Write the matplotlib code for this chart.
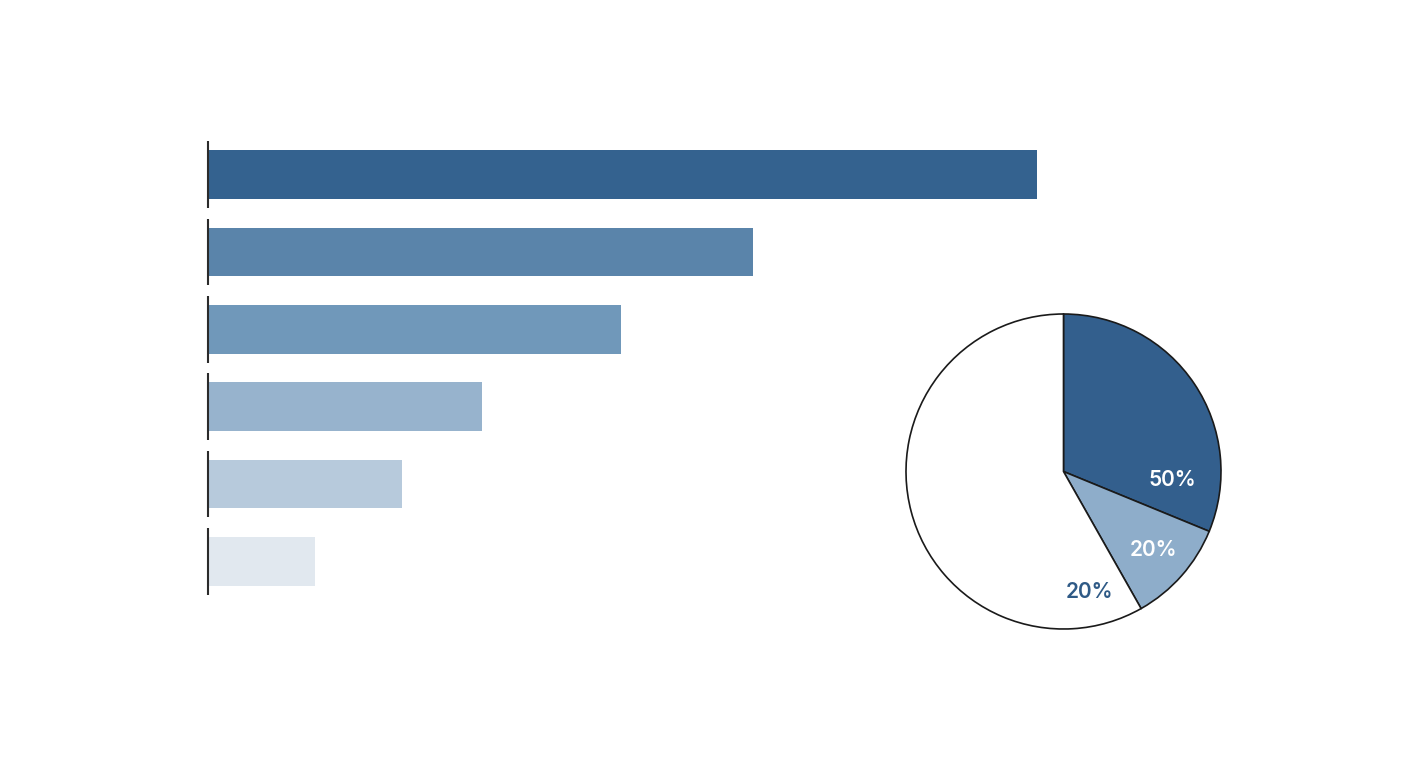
import numpy as np
import matplotlib
matplotlib.use("Agg")
from matplotlib import pyplot as plt

# bar lengths (relative, longest = 100), top to bottom
bar_values = [100, 65.6, 49.7, 32.9, 23.3, 12.8]
bar_colors = ["#34628f", "#5a84aa", "#7098ba", "#97b3cd", "#b7cadc", "#e1e8ef"]

# pie wedge shares (as drawn) and the labels printed on them
pie_values = [31.2, 10.6, 58.2]
pie_colors = ["#335f8d", "#8eadca", "#ffffff"]
pie_labels = ["50%", "20%", "20%"]
label_colors = ["white", "white", "#2f5a86"]
# label placement: (angle in degrees, radius as fraction of pie radius)
label_angles = [-4.5, -41, -78]
label_radii = [0.69, 0.76, 0.78]

plt.rcParams['font.family'] = ['Inter', 'DejaVu Sans']

fig = plt.figure(figsize=(14.08, 7.68), dpi=100)
fig.patch.set_facecolor("white")

# horizontal bars
ax = fig.add_axes([208 / 1408, 1 - 600 / 768, (1037 - 208) / 1408, 464 / 768])
y = np.arange(len(bar_values))
ax.barh(y, bar_values, height=0.63, color=bar_colors, left=0.1)
ax.vlines(np.zeros(len(y)), y - 0.43, y + 0.43, color="#2b2b2b", lw=1.5,
          clip_on=False)
ax.set_xlim(0, 100)
ax.set_ylim(len(bar_values) - 0.5, -0.5)
ax.axis("off")

# pie
pax = fig.add_axes([906 / 1408, 1 - 629 / 768, 315 / 1408, 315 / 768])
pax.pie(pie_values, colors=pie_colors, startangle=90, counterclock=False,
        radius=1, wedgeprops=dict(edgecolor="#1a1a1a", linewidth=1.2))
for lab, col, ang, r in zip(pie_labels, label_colors, label_angles, label_radii):
    a = np.deg2rad(ang)
    pax.text(r * np.cos(a), r * np.sin(a), lab, color=col, fontsize=15,
             ha="center", va="center", fontweight="semibold")
pax.set_xlim(-1.0, 1.0)
pax.set_ylim(-1.0, 1.0)
pax.set_aspect("equal")
pax.axis("off")

fig.savefig("out.png", dpi=100, facecolor="white")
